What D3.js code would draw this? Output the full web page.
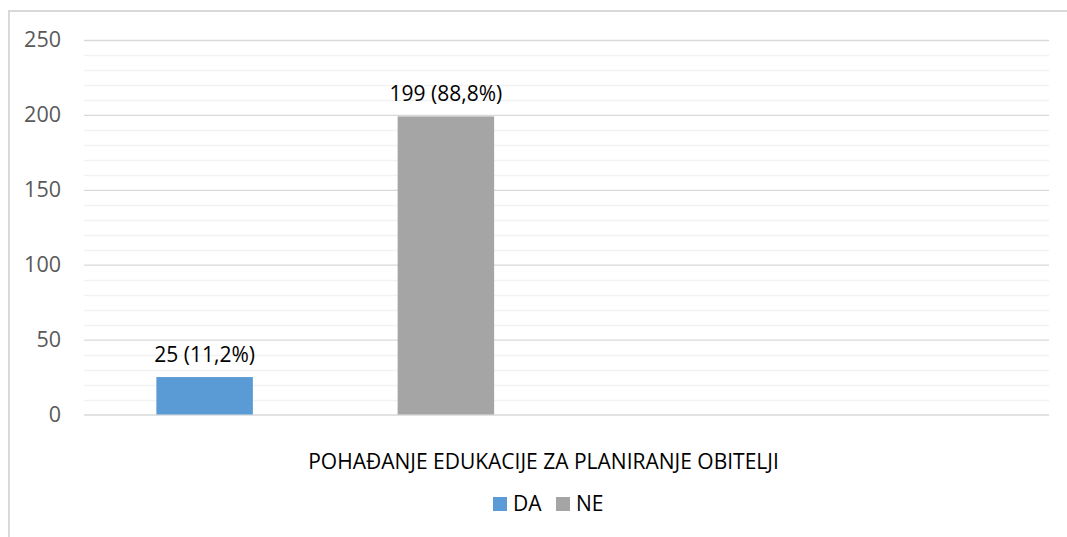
<!DOCTYPE html>
<html>
<head>
<meta charset="utf-8">
<script src="https://cdn.jsdelivr.net/npm/d3@7"></script>
<style>
  body { margin: 0; background: #fff; }
  text { font-family: "Open Sans", sans-serif; }
</style>
</head>
<body>
<div class="chart_box"></div>
<script>
var series = ["DA", "NE"];
var values = [25, 199];
var percents = ["11,2%", "88,8%"];
var colors = ["#5B9BD5", "#A5A5A5"];
var slots = ["DA", "NE", "s3", "s4"];
var yTicks = [0, 50, 100, 150, 200, 250];
var axisTitle = "POHAĐANJE EDUKACIJE ZA PLANIRANJE OBITELJI";

var width = 1067;
var height = 537;
var plot = { left: 84, right: 1049, top: 40, bottom: 414.5 };

var svg = d3.select('.chart_box')
            .append("svg")
            .attr("width", width)
            .attr("height", height);

// chart border (right and bottom edges run off the picture)
svg.append("rect")
   .attr("x", 9)
   .attr("y", 11)
   .attr("width", width + 20)
   .attr("height", height + 20)
   .attr("fill", "none")
   .attr("stroke", "#D9D9D9")
   .attr("stroke-width", 2);

var x = d3.scaleBand()
  .domain(slots)
  .range([plot.left, plot.right])
  .padding(0);

var y = d3.scaleLinear()
  .domain([0, 250])
  .range([plot.bottom, plot.top]);

// minor gridlines
svg.append("g")
   .attr("class", "minor grid")
   .selectAll("line")
   .data(d3.range(0, 251, 10).filter(function(d) { return d % 50 != 0; }))
   .enter().append("line")
   .attr("x1", plot.left)
   .attr("x2", plot.right)
   .attr("y1", function(d) { return Math.round(y(d)) + 0.5; })
   .attr("y2", function(d) { return Math.round(y(d)) + 0.5; })
   .style("stroke", "#F2F2F2")
   .style("stroke-width", 1.3);

// major gridlines + tick labels
var yAxis = svg.append("g")
   .attr("class", "y axis")
   .attr("transform", "translate(" + plot.left + ",0)")
   .call(d3.axisLeft(y).tickValues(yTicks)
           .tickSize(-(plot.right - plot.left))
           .tickPadding(23));

yAxis.select(".domain").remove();
yAxis.selectAll(".tick line")
   .style("stroke", "#D9D9D9")
   .style("stroke-width", 1.3);
yAxis.selectAll(".tick text")
   .attr("fill", "#595959")
   .attr("font-size", "21.5px")
   .attr("font-family", "Open Sans, sans-serif");

// bars
svg.selectAll("rect.bar")
   .data(series)
   .enter().append("rect")
   .attr("class", "bar")
   .attr("x", function(d) { return x(d) + x.bandwidth() * 0.3; })
   .attr("width", x.bandwidth() * 0.4)
   .attr("y", function(d, i) { return y(values[i]); })
   .attr("height", function(d, i) { return y(0) - y(values[i]); })
   .attr("fill", function(d, i) { return colors[i]; });

// data labels
svg.selectAll("text.label")
   .data(series)
   .enter().append("text")
   .attr("class", "label")
   .attr("x", function(d) { return x(d) + x.bandwidth() / 2; })
   .attr("y", function(d, i) { return y(values[i]) - 15; })
   .attr("text-anchor", "middle")
   .attr("fill", "#000")
   .attr("font-size", "21px")
   .text(function(d, i) { return values[i] + " (" + percents[i] + ")"; });

// category axis title
svg.append("text")
   .attr("x", (plot.left + plot.right) / 2 - 23)
   .attr("y", 469)
   .attr("text-anchor", "middle")
   .attr("fill", "#000")
   .attr("font-size", "21px")
   .text(axisTitle);

// legend
var legendX = [493, 556];
var legend = svg.selectAll("g.legend")
   .data(series)
   .enter().append("g")
   .attr("class", "legend")
   .attr("transform", function(d, i) { return "translate(" + legendX[i] + ",497)"; });

legend.append("rect")
   .attr("width", 14)
   .attr("height", 14)
   .attr("fill", function(d, i) { return colors[i]; });

legend.append("text")
   .attr("x", 20)
   .attr("y", 14)
   .attr("fill", "#000")
   .attr("font-size", "21px")
   .text(function(d) { return d; });
</script>
</body>
</html>
